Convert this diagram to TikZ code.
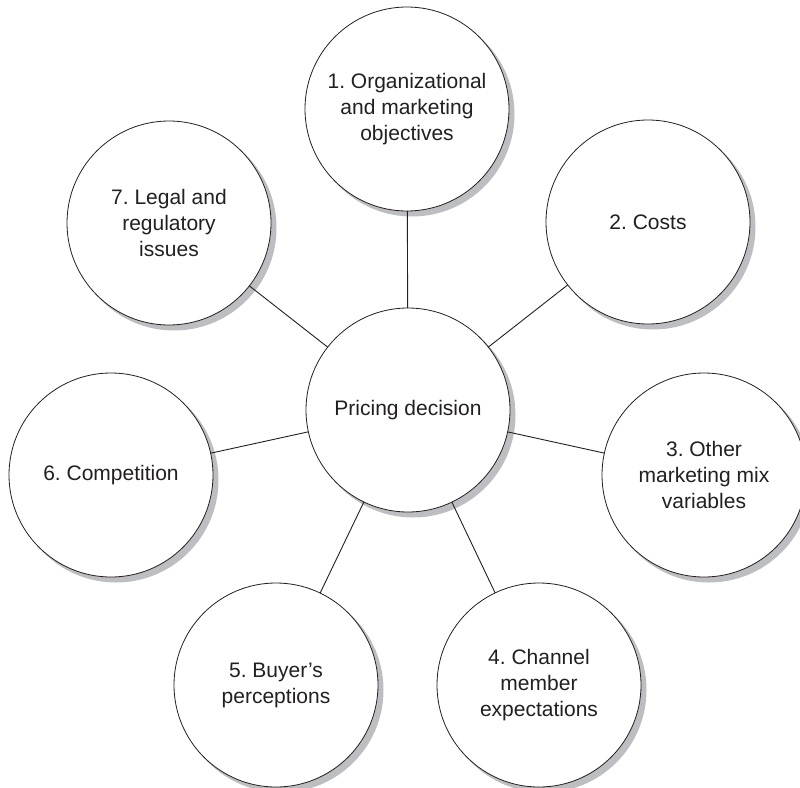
\documentclass[tikz,border=0pt]{standalone}
\usepackage{fontspec}
\setmainfont{Liberation Sans}
\frenchspacing
\definecolor{shade}{HTML}{BDBEC1}
\definecolor{ink}{HTML}{231F20}
\begin{document}
\begin{tikzpicture}[x=1pt,y=-1pt,
  bubble/.style={circle, draw=ink, line width=0.8pt, fill=white, minimum size=204pt, inner sep=0pt, outer sep=0pt,
    align=center, text=ink, font=\fontsize{21}{26}\selectfont},
  shadowdisc/.style={fill=shade, draw=shade, line width=1pt},
  link/.style={draw=ink, line width=0.9pt}]
\useasboundingbox (0,0) rectangle (800,787);
\foreach \p in {(408,410),(407,109),(648,222),(704,475),(539,685),(276,685),(111,475),(169,223)}
  \path[shadowdisc] \p ++(5,5) circle[radius=102];
\node[bubble] (c) at (408,410) {Pricing decision};
\node[bubble] (n1) at (407,109) {1. Organizational\\and marketing\\objectives};
\node[bubble] (n2) at (648,222) {2. Costs};
\node[bubble] (n3) at (704,475) {3. Other\\marketing mix\\variables};
\node[bubble] (n4) at (539,685) {4. Channel\\member\\expectations};
\node[bubble] (n5) at (276,685) {5. Buyer's\\perceptions};
\node[bubble] (n6) at (111,475) {6. Competition};
\node[bubble] (n7) at (169,223) {7. Legal and\\regulatory\\issues};
\foreach \n in {n1,n2,n3,n4,n5,n6,n7} \draw[link] (c) -- (\n);
\end{tikzpicture}
\end{document}
